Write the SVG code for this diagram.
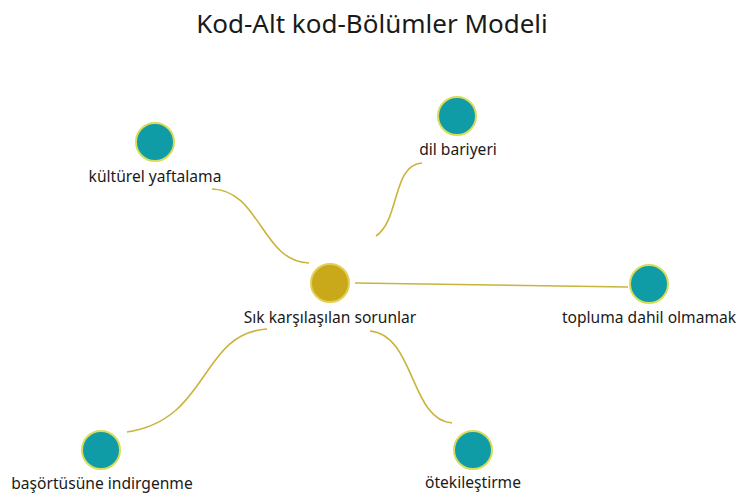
<svg xmlns="http://www.w3.org/2000/svg" width="739" height="494" viewBox="0 0 739 494">
<style>
text{font-family:"Noto Sans","Open Sans","Liberation Sans",sans-serif;fill:#1a1a1a;text-anchor:middle}
.lbl{font-size:15.6px}
.title{font-size:26px}
.leaf{fill:#0f9ca6;stroke:#d8dc5a;stroke-width:2}
.hub{fill:#c9a919;stroke:#e3cf55;stroke-width:2}
.edge{fill:none;stroke:#c9b43c;stroke-width:1.6}
</style>
<rect width="739" height="494" fill="#ffffff"/>
<text class="title" x="372" y="33">Kod-Alt kod-Bölümler Modeli</text>
<g id="connectors">
<path class="edge" d="M212 189 C260 190 262 262 309 263"/>
<path class="edge" d="M376 236 C400 220 392 165 422 163"/>
<path class="edge" d="M355 283 L628 287"/>
<path class="edge" d="M127 432 C210 420 200 333 267 329"/>
<path class="edge" d="M370 331 C415 335 410 420 452 423"/>
</g>
<g id="n-center"><circle class="hub" cx="330" cy="283" r="19"/><text class="lbl" x="330" y="323">Sık karşılaşılan sorunlar</text></g>
<g id="n-kulturel"><circle class="leaf" cx="155" cy="142" r="19"/><text class="lbl" x="155" y="182">kültürel yaftalama</text></g>
<g id="n-dil"><circle class="leaf" cx="457" cy="116" r="19"/><text class="lbl" x="458" y="155">dil bariyeri</text></g>
<g id="n-topluma"><circle class="leaf" cx="649" cy="284" r="19"/><text class="lbl" x="649" y="323">topluma dahil olmamak</text></g>
<g id="n-basortusu"><circle class="leaf" cx="101" cy="450" r="19"/><text class="lbl" x="102" y="489">başörtüsüne indirgenme</text></g>
<g id="n-oteki"><circle class="leaf" cx="473" cy="450" r="19"/><text class="lbl" x="473" y="488">ötekileştirme</text></g>
</svg>
